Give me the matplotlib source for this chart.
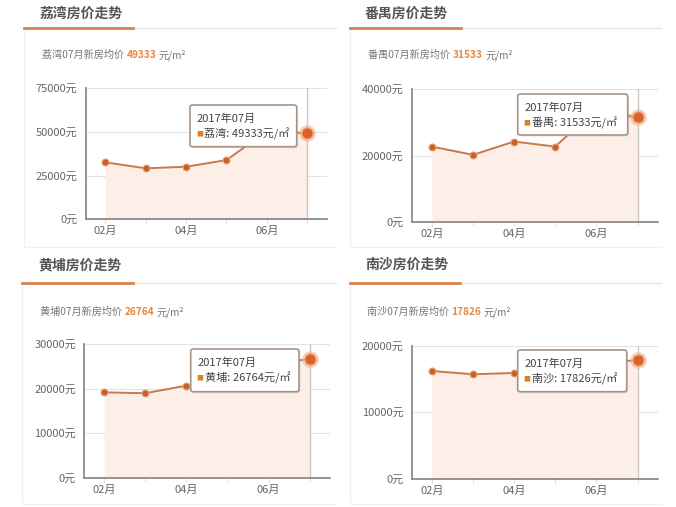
import matplotlib.pyplot as plt
from matplotlib.patches import FancyBboxPatch
import numpy as np

plt.rcParams['font.family'] = ['Noto Sans CJK SC', 'DejaVu Sans']

W, H = 676, 507  # figure size in pixels

# data (06 values are hidden behind the tooltip, estimated)
months = ['02月', '03月', '04月', '05月', '06月', '07月']
month_idx = [2, 3, 4, 5, 6, 7]
districts = ['荔湾', '番禺', '黄埔', '南沙']
liwan = [32600, 29200, 30100, 33900, 50500, 49333]
panyu = [22700, 20200, 24200, 22700, 34000, 31533]
huangpu = [19200, 19000, 20700, 22800, 25200, 26764]
nansha = [16200, 15700, 15900, 16500, 17400, 17826]
y_max = [75000, 40000, 30000, 20000]
y_step = [25000, 20000, 10000, 10000]

ORANGE = '#d9824a'
LINE = '#c9784a'
DOT = '#c8602e'
FILL = '#fdefe7'


def fx(x):  # pixel -> figure fraction
    return x / W


def fy(y):
    return 1 - y / H


fig = plt.figure(figsize=(W / 100, H / 100), dpi=100)
fig.patch.set_facecolor('white')

# panel layout in pixels
panels = [
    dict(x0=24, x1=336, ty=14, title_x=40, sub_x=42, sub_y=55, rule_y=28, orange=(24, 133),
         ax=(86, 88.3, 327, 219.3), tip=(190, 105, 296.7, 146.7), box=(24, 28, 336, 247)),
    dict(x0=350, x1=661, ty=14, title_x=365, sub_x=368, sub_y=55, rule_y=28, orange=(350, 461),
         ax=(412, 89.3, 657.7, 221.7), tip=(517.7, 94, 627.7, 135), box=(350, 28, 661, 247)),
    dict(x0=22, x1=336, ty=265, title_x=38, sub_x=40, sub_y=312, rule_y=283, orange=(22, 133),
         ax=(84.3, 344.3, 330, 477.7), tip=(190.7, 349, 299, 391.7), box=(22, 283, 336, 504)),
    dict(x0=350, x1=661, ty=265, title_x=365, sub_x=367, sub_y=312, rule_y=283, orange=(350, 460),
         ax=(412, 345.7, 657.7, 478.7), tip=(517.7, 350, 626.7, 391.7), box=(350, 283, 661, 504)),
]
series = [liwan, panyu, huangpu, nansha]

for i, p in enumerate(panels):
    name = districts[i]
    vals = series[i]
    last = vals[-1]

    # faint card outline
    bx0, by0, bx1, by1 = p['box']
    fig.add_artist(plt.Line2D([fx(bx0), fx(bx0), fx(bx1)], [fy(by0), fy(by1), fy(by1)],
                              color='#f0f0f0', lw=1, transform=fig.transFigure))

    # title and its rule
    fig.text(fx(p['title_x']), fy(p['ty']), name + '房价走势', fontsize=10, fontweight='bold',
             color='#555555', va='center', ha='left')
    fig.add_artist(plt.Line2D([fx(p['x0']), fx(p['x1'])], [fy(p['rule_y'])] * 2,
                              color='#e6e6e6', lw=1, transform=fig.transFigure))
    fig.add_artist(plt.Line2D([fx(p['orange'][0]), fx(p['orange'][1])], [fy(p['rule_y'])] * 2,
                              color=ORANGE, lw=2, transform=fig.transFigure))

    # subtitle with price highlighted
    t = fig.text(fx(p['sub_x']), fy(p['sub_y']), name + '07月新房均价 ', fontsize=7.3,
                 color='#777777', va='center', ha='left')
    fig.canvas.draw()
    bb = t.get_window_extent()
    t2 = fig.text(bb.x1 / W, fy(p['sub_y']), '%d' % last, fontsize=7.3, fontweight='bold',
                  color='#e8873f', va='center', ha='left')
    bb2 = t2.get_window_extent()
    fig.text(bb2.x1 / W + 0.004, fy(p['sub_y']), '元/m²', fontsize=7.3, color='#777777',
             va='center', ha='left')

    # chart
    l, tp, r, b = p['ax']
    ax = fig.add_axes([fx(l), fy(b), fx(r) - fx(l), (b - tp) / H])
    ax.set_xlim(1.52, 7.49)
    ax.set_ylim(0, y_max[i])
    ticks = np.arange(0, y_max[i] + 1, y_step[i])
    ax.set_yticks(ticks)
    ax.set_yticklabels(['%d元' % v for v in ticks], fontsize=8, color='#666666')
    for v in ticks[1:]:
        ax.axhline(v, color='#e3e3e3', lw=0.8, zorder=0)
    ax.set_xticks(month_idx)
    ax.set_xticklabels([m if k % 2 == 0 else '' for k, m in enumerate(months)],
                       fontsize=8, color='#666666')
    ax.tick_params(axis='y', length=0, pad=6)
    ax.tick_params(axis='x', length=3, color='#dddddd', pad=2)
    for s in ['top', 'right']:
        ax.spines[s].set_visible(False)
    for s in ['left', 'bottom']:
        ax.spines[s].set_color('#8c8c8c')
        ax.spines[s].set_linewidth(1.3)

    ax.fill_between(month_idx, vals, 0, color=FILL, zorder=1, lw=0)
    ax.axvline(month_idx[-1], color='#c8c8c8', lw=1, zorder=2)
    ax.plot(month_idx, vals, color=LINE, lw=1.4, zorder=3)
    ax.plot(month_idx[:-1], vals[:-1], 'o', ms=5, color=DOT, mec='#e9a27a', mew=0.8, zorder=4)
    ax.plot(month_idx[-1], last, 'o', ms=12, color='#f3b48c', alpha=0.6, mew=0, zorder=4,
            clip_on=False)
    ax.plot(month_idx[-1], last, 'o', ms=8, color='#d9632c', mec='#f0a070', mew=0.8, zorder=5,
            clip_on=False)
    ax.plot([6.75, 7], [last, last], ls='--', color='#bbbbbb', lw=0.8, zorder=2)

    # tooltip
    tl, tt, tr, tb = p['tip']
    shadow = FancyBboxPatch((fx(tl) + 0.002, fy(tb) - 0.003), fx(tr) - fx(tl), (tb - tt) / H,
                            boxstyle='round,pad=0,rounding_size=0.004', transform=fig.transFigure,
                            facecolor='#999999', alpha=0.25, edgecolor='none', zorder=9)
    box = FancyBboxPatch((fx(tl), fy(tb)), fx(tr) - fx(tl), (tb - tt) / H,
                         boxstyle='round,pad=0,rounding_size=0.004', transform=fig.transFigure,
                         facecolor='white', edgecolor='#a89484', lw=1.2, zorder=10)
    fig.add_artist(shadow)
    fig.add_artist(box)
    fig.text(fx(tl + 7), fy(tt + 14), '2017年07月', fontsize=8, color='#444444',
             va='center', ha='left', zorder=11)
    fig.text(fx(tl + 6), fy(tt + 29), '■', fontsize=5, color='#d9822b',
             va='center', ha='left', zorder=11)
    fig.text(fx(tl + 14), fy(tt + 29), '%s: %d元/㎡' % (name, last), fontsize=8,
             color='#444444', va='center', ha='left', zorder=11)

fig.savefig('out.png', dpi=100, facecolor='white')
